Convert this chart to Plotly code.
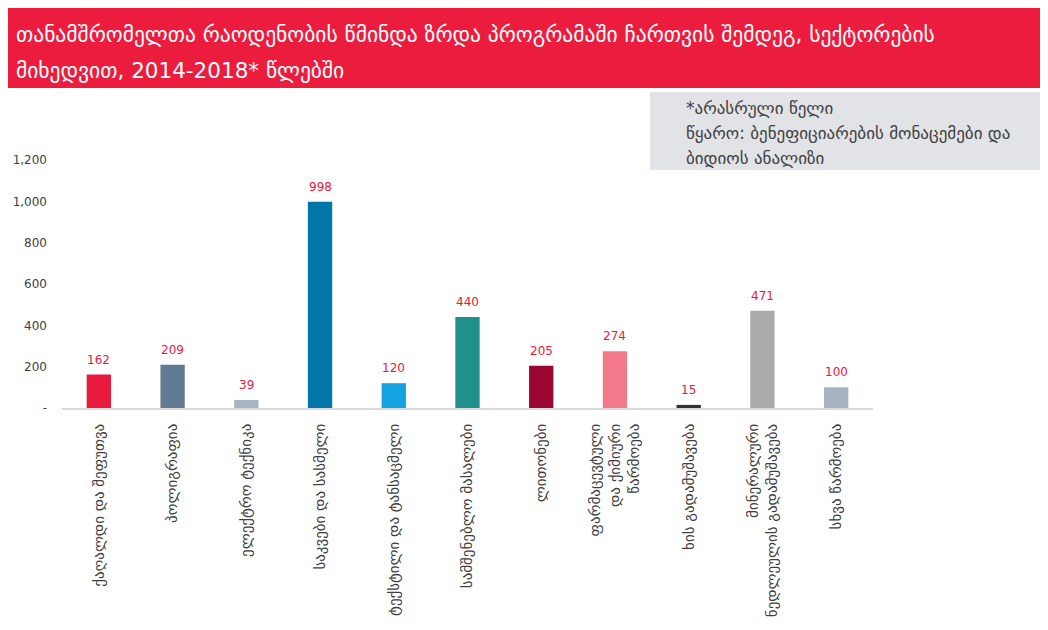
import plotly.graph_objects as go

title_lines = [
    "თანამშრომელთა რაოდენობის წმინდა ზრდა პროგრამაში ჩართვის შემდეგ, სექტორების",
    "მიხედვით, 2014-2018* წლებში",
]
note_lines = [
    "*არასრული წელი",
    "წყარო: ბენეფიციარების მონაცემები და",
    "ბიდიოს ანალიზი",
]
categories = [
    "ქაღალდი და შეფუთვა",
    "პოლიგრაფია",
    "ელექტრო ტექნიკა",
    "საკვები და სასმელი",
    "ტექსტილი და ტანსაცმელი",
    "სამშენებლო მასალები",
    "ლითონები",
    "ფარმაცევტული<br>და ქიმიური<br>წარმოება",
    "ხის გადამუშავება",
    "მინერალური<br>ნედლეულის გადამუშავება",
    "სხვა წარმოება",
]
values = [162, 209, 39, 998, 120, 440, 205, 274, 15, 471, 100]
bar_colors = ["#E8193C", "#627A92", "#A7B4C1", "#0077A8", "#12A3E0", "#1F918A",
              "#9A0631", "#F27A8A", "#333333", "#ABABAB", "#A5B3C0"]
y_tickvals = [0, 200, 400, 600, 800, 1000, 1200]
y_ticktext = ["-", "200", "400", "600", "800", "1,000", "1,200"]

OFF = 8  # page body margin
W, H = 1040, 622
# plot area in reference-page pixels
L, R, T, B = 62, 873, 160, 408


def px(x):
    return (x - L) / (R - L)


def py(y):
    return (B - y) / (B - T)


FONT = "DejaVu Sans"

fig = go.Figure()
fig.add_trace(go.Bar(
    x=categories, y=values, marker=dict(color=bar_colors, line=dict(width=0)),
    width=0.33, hoverinfo="x+y",
))

annotations = []
for c, v in zip(categories, values):
    annotations.append(dict(
        x=c, y=v, xref="x", yref="y", text=str(v), showarrow=False,
        yanchor="bottom", yshift=6, font=dict(family=FONT, size=12, color="#E8193C"),
    ))

for i, t in enumerate(title_lines):
    annotations.append(dict(x=px(14), y=py(35 + 35 * i), xref="paper", yref="paper", text=t,
                            showarrow=False, xanchor="left", yanchor="middle",
                            font=dict(family=FONT, size=21.5, color="white")))
for i, t in enumerate(note_lines):
    annotations.append(dict(x=px(684), y=py(108 + 25 * i), xref="paper", yref="paper", text=t,
                            showarrow=False, xanchor="left", yanchor="middle",
                            font=dict(family=FONT, size=17, color="#404040")))

shapes = [
    dict(type="rect", xref="paper", yref="paper", x0=px(8), x1=px(1060), y0=py(88), y1=py(5),
         fillcolor="#EC1C3E", line=dict(width=0), layer="below"),
    dict(type="rect", xref="paper", yref="paper", x0=px(650), x1=px(1060), y0=py(170), y1=py(92),
         fillcolor="#E1E3E7", line=dict(width=0), layer="below"),
]

fig.update_layout(
    width=W, height=H,
    margin=dict(l=L - OFF, r=W - (R - OFF), t=T - OFF, b=H - (B - OFF), pad=0,
                autoexpand=False),
    paper_bgcolor="white", plot_bgcolor="white",
    showlegend=False,
    annotations=annotations,
    shapes=shapes,
    bargap=0.67,
    font=dict(family=FONT, size=12, color="#404040"),
    xaxis=dict(
        showline=True, linecolor="#D9D9D9", linewidth=1.5, showgrid=False,
        tickangle=-90, ticks="", tickfont=dict(family=FONT, size=15, color="#404040"),
        ticklabelstandoff=8, fixedrange=True, automargin=False,
    ),
    yaxis=dict(
        range=[0, 1200], tickvals=y_tickvals, ticktext=y_ticktext, showgrid=False,
        showline=False, zeroline=False, ticks="", ticklabelstandoff=14,
        tickfont=dict(family=FONT, size=12, color="#404040"), fixedrange=True,
        automargin=False,
    ),
)

fig.write_html("out.html")
